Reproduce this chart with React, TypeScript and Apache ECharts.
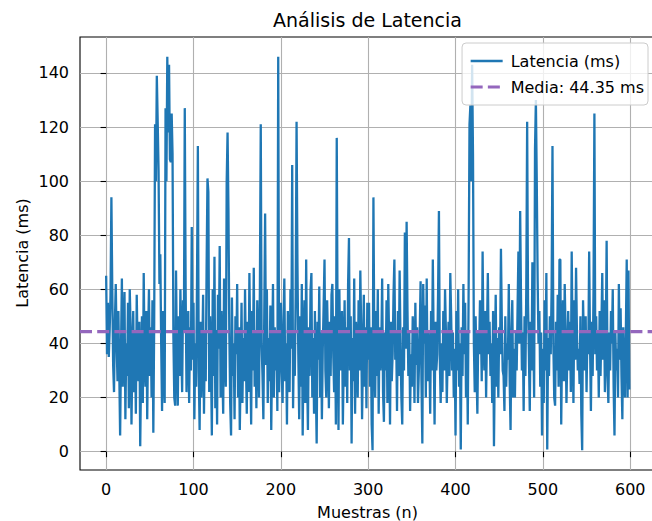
import React, { useEffect, useRef } from "react";
import * as echarts from "echarts";

// Latency samples (index = sample number)
const samples: number[] = [
  65, 36, 55, 35, 45, 58, 94, 60, 32, 22, 48, 62, 40, 26, 52, 30, 6, 38, 64, 24,
  45, 59, 12, 40, 28, 55, 16, 60, 46, 10, 36, 52, 22, 44, 14, 58, 38, 26, 48, 2,
  30, 50, 18, 66, 34, 24, 52, 12, 42, 60, 28, 46, 20, 56, 7, 48, 121, 100, 139, 122,
  104, 62, 73, 40, 15, 52, 30, 18, 127, 100, 146, 118, 143, 108, 107, 125, 110, 42, 20, 17,
  67, 35, 17, 50, 28, 60, 38, 22, 56, 44, 127, 60, 22, 40, 52, 18, 46, 30, 83, 34,
  55, 12, 40, 24, 62, 113, 30, 8, 48, 20, 36, 58, 14, 44, 26, 68, 101, 96, 22, 50,
  34, 6, 60, 28, 72, 16, 45, 10, 58, 38, 76, 20, 52, 30, 14, 64, 40, 24, 100, 118,
  90, 44, 18, 6, 57, 28, 40, 12, 50, 36, 62, 20, 46, 8, 30, 55, 18, 42, 26, 60,
  34, 14, 48, 22, 66, 38, 10, 52, 30, 68, 24, 44, 16, 56, 36, 20, 60, 121, 40, 28,
  12, 50, 88, 32, 60, 18, 42, 26, 54, 8, 36, 62, 20, 46, 30, 44, 15, 146, 22, 40,
  55, 30, 18, 48, 64, 26, 40, 10, 52, 34, 22, 60, 38, 106, 16, 44, 28, 58, 122, 70,
  36, 12, 50, 24, 62, 6, 40, 56, 18, 71, 30, 8, 46, 28, 60, 66, 20, 42, 14, 52,
  26, 3, 48, 34, 61, 20, 44, 12, 38, 54, 71, 30, 20, 56, 40, 16, 48, 28, 58, 62,
  36, 22, 50, 10, 116, 44, 8, 60, 30, 40, 52, 10, 34, 56, 24, 46, 18, 62, 79, 30,
  50, 3, 42, 26, 64, 14, 48, 38, 20, 56, 30, 67, 44, 12, 36, 58, 24, 46, 16, 55,
  34, 55, 24, 46, 10, 0.5, 94, 40, 20, 52, 28, 60, 14, 46, 30, 38, 64, 22, 11, 44,
  30, 56, 18, 62, 40, 10, 48, 26, 36, 58, 71, 34, 44, 15, 52, 28, 67, 40, 20, 10,
  46, 30, 81, 38, 85, 52, 28, 44, 15, 36, 24, 50, 40, 18, 55, 32, 46, 18, 30, 44,
  63, 26, 3, 62, 40, 54, 20, 64, 26, 44, 36, 14, 52, 30, 71, 40, 10, 48, 30, 36,
  58, 89, 34, 18, 40, 22, 52, 30, 60, 44, 18, 36, 48, 28, 66, 50, 30, 44, 20, 38,
  6, 52, 30, 60, 24, 40, 0.8, 46, 28, 62, 36, 55, 20, 44, 10, 60, 121, 128, 100, 143,
  110, 40, 22, 50, 30, 14, 44, 36, 56, 48, 26, 74, 40, 30, 52, 20, 44, 66, 36, 48,
  28, 40, 18, 52, 2, 34, 58, 24, 42, 20, 46, 36, 75, 48, 30, 28, 15, 50, 24, 40,
  34, 62, 26, 8, 44, 56, 20, 38, 20, 45, 30, 52, 74, 40, 89, 56, 30, 44, 15, 50,
  28, 60, 122, 55, 36, 15, 48, 30, 70, 46, 20, 112, 130, 100, 64, 40, 52, 24, 44, 6,
  38, 18, 56, 30, 66, 0.8, 42, 28, 50, 36, 60, 113, 40, 20, 17, 48, 30, 58, 24, 71,
  71, 10, 40, 56, 26, 62, 44, 18, 36, 52, 30, 48, 22, 74, 40, 18, 56, 34, 68, 44,
  30, 38, 25, 50, 14, 0.5, 56, 40, 30, 50, 22, 44, 36, 74, 40, 15, 48, 28, 60, 125,
  36, 50, 30, 44, 20, 52, 28, 46, 66, 34, 56, 22, 40, 78, 28, 18, 44, 30, 52, 40,
  60, 24, 6, 44, 30, 38, 20, 62, 34, 53, 28, 12, 46, 30, 20, 44, 71, 20, 67, 23,
];

const MEAN = 44.35;
const X_TICKS = [0, 100, 200, 300, 400, 500, 600];
const Y_TICKS = [0, 20, 40, 60, 80, 100, 120, 140];
const TITLE = "Análisis de Latencia";
const X_LABEL = "Muestras (n)";
const Y_LABEL = "Latencia (ms)";
const SERIES_NAME = "Latencia (ms)";
const MEAN_NAME = `Media: ${MEAN.toFixed(2)} ms`;
const X_MIN = -29.95;
const X_MAX = 628.95;
const Y_MIN = -6.8;
const Y_MAX = 153.3;

const FONT = "DejaVu Sans";

export default function App() {
  const ref = useRef<HTMLDivElement>(null);
  useEffect(() => {
    if (!ref.current) return;
    const chart = echarts.init(ref.current, undefined, { renderer: "svg" });
    const axisCommon = {
      type: "value" as const,
      axisLine: { show: false },
      axisTick: { show: true, length: 5.6, lineStyle: { color: "#000", width: 1.1 } },
      axisLabel: { color: "#000", fontSize: 16, fontFamily: FONT, margin: 11 },
      splitLine: { show: true, lineStyle: { color: "#b0b0b0", width: 1.1 } },
    };
    chart.setOption({
      animation: false,
      textStyle: { fontFamily: FONT },
      grid: {
        left: 80,
        right: 4.5,
        top: 37,
        bottom: 51,
        show: true,
        borderColor: "#000",
        borderWidth: 1.1,
        backgroundColor: "transparent",
      },
      xAxis: {
        ...axisCommon,
        min: X_MIN,
        max: X_MAX,
        axisTick: { ...axisCommon.axisTick, customValues: X_TICKS },
        axisLabel: { ...axisCommon.axisLabel, customValues: X_TICKS },
      },
      yAxis: {
        ...axisCommon,
        min: Y_MIN,
        max: Y_MAX,
        splitNumber: 8,
        axisTick: { ...axisCommon.axisTick, customValues: Y_TICKS },
        axisLabel: { ...axisCommon.axisLabel, customValues: Y_TICKS },
      },
      legend: {
        orient: "vertical",
        right: 12,
        top: 43,
        itemWidth: 32,
        itemHeight: 14,
        itemGap: 10,
        padding: [10, 4, 10, 7],
        backgroundColor: "rgba(255,255,255,0.8)",
        borderColor: "#cccccc",
        borderWidth: 1,
        borderRadius: 4,
        itemStyle: { opacity: 0, borderWidth: 0 },
        lineStyle: { width: "inherit", type: "inherit" },
        textStyle: { fontSize: 16, color: "#000", fontFamily: FONT, padding: [0, 0, 0, 3] },
        data: [{ name: SERIES_NAME }, { name: MEAN_NAME }],
      },
      graphic: [
        {
          type: "text",
          x: 367.5,
          y: 20,
          style: { text: TITLE, fontSize: 19, fontFamily: FONT, fill: "#000", align: "center", verticalAlign: "middle" },
        },
        {
          type: "text",
          x: 367.5,
          y: 512,
          style: { text: X_LABEL, fontSize: 16, fontFamily: FONT, fill: "#000", align: "center", verticalAlign: "middle" },
        },
        {
          type: "text",
          x: 22,
          y: 253,
          rotation: Math.PI / 2,
          style: { text: Y_LABEL, fontSize: 16, fontFamily: FONT, fill: "#000", align: "center", verticalAlign: "middle" },
        },
      ],
      series: [
        {
          name: SERIES_NAME,
          type: "line",
          data: samples.map((v, i) => [i, v]),
          showSymbol: false,
          symbol: "none",
          lineStyle: { color: "#1f77b4", width: 2.3 },
          itemStyle: { color: "#1f77b4" },
          z: 2,
        },
        {
          name: MEAN_NAME,
          type: "line",
          data: [
            [X_MIN, MEAN],
            [X_MAX, MEAN],
          ],
          showSymbol: false,
          symbol: "none",
          lineStyle: { color: "#9467bd", width: 3.2, type: [12, 5.2] },
          itemStyle: { color: "#9467bd" },
          z: 3,
        },
      ],
    });
    return () => chart.dispose();
  }, []);
  return (
    <div
      style={{
        position: "fixed",
        left: 0,
        top: 0,
        width: 652,
        height: 521,
        overflow: "hidden",
        background: "#fff",
      }}
    >
      <div ref={ref} style={{ width: 660, height: 521 }} />
    </div>
  );
}
